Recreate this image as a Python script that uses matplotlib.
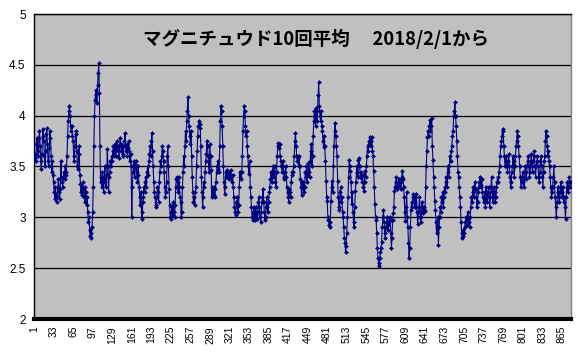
import matplotlib
matplotlib.use("Agg")
import matplotlib.pyplot as plt

title_text = "マグニチュウド10回平均　 2018/2/1から"
y_ticks = [2, 2.5, 3, 3.5, 4, 4.5, 5]
y_tick_labels = ["2", "2.5", "3", "3.5", "4", "4.5", "5"]
x_tick_positions = list(range(1, 866, 32))
x_tick_labels = [str(v) for v in x_tick_positions]

avg_values = [
    3.55, 3.58, 3.62, 3.55, 3.72, 3.78, 3.65, 3.6,
    3.78, 3.85, 3.7, 3.55, 3.48, 3.62, 3.8, 3.87,
    3.75, 3.6, 3.5, 3.65, 3.82, 3.88, 3.72, 3.55,
    3.5, 3.68, 3.85, 3.78, 3.6, 3.45, 3.55, 3.42,
    3.35, 3.25, 3.18, 3.3, 3.22, 3.15, 3.2, 3.3,
    3.38, 3.25, 3.18, 3.28, 3.55, 3.4, 3.35, 3.3,
    3.4, 3.45, 3.38, 3.5, 3.42, 3.45, 3.6, 3.8,
    3.95, 4.05, 4.1, 4.0, 3.9, 3.85, 3.9, 3.8,
    3.75, 3.6, 3.55, 3.7, 3.82, 3.85, 3.65, 3.5,
    3.48, 3.62, 3.7, 3.42, 3.33, 3.25, 3.3, 3.22,
    3.35, 3.28, 3.2, 3.15, 3.3, 3.25, 3.12, 3.2,
    3.05, 2.95, 3.0, 2.88, 2.82, 2.8, 2.85, 2.9,
    3.05, 3.3, 3.7, 4.0, 4.15, 4.25, 4.2, 4.12,
    4.3, 4.42, 4.52, 4.22, 3.7, 3.35, 3.4, 3.3,
    3.45, 3.38, 3.25, 3.4, 3.5, 3.35, 3.3, 3.42,
    3.67, 3.5, 3.25, 3.4, 3.45, 3.55, 3.5, 3.6,
    3.55, 3.65, 3.7, 3.6, 3.65, 3.72, 3.6, 3.68,
    3.75, 3.7, 3.65, 3.58, 3.7, 3.78, 3.72, 3.65,
    3.7, 3.62, 3.6, 3.7, 3.75, 3.83, 3.7, 3.65,
    3.72, 3.6, 3.68, 3.75, 3.65, 3.55, 3.62, 3.5,
    3.0, 3.3, 3.45, 3.55, 3.5, 3.4, 3.52, 3.55,
    3.45, 3.35, 3.5, 3.42, 3.3, 3.2, 3.12, 3.25,
    3.05, 2.98, 3.15, 3.2, 3.3, 3.25, 3.35, 3.4,
    3.3, 3.45, 3.5, 3.42, 3.55, 3.62, 3.7, 3.6,
    3.75, 3.83, 3.65, 3.5, 3.35, 3.25, 3.2, 3.12,
    3.1, 3.2, 3.3, 3.25, 3.15, 3.35, 3.45, 3.55,
    3.5, 3.6, 3.7, 3.65, 3.55, 3.45, 3.3, 3.2,
    3.25, 3.35, 3.6, 3.7, 3.5, 3.28, 3.12, 3.0,
    2.98, 3.05, 3.1, 3.02, 3.15, 3.05, 3.0, 3.12,
    3.3, 3.38, 3.4, 3.35, 3.25, 3.4, 3.3, 3.2,
    3.15, 3.0, 3.05, 3.3, 3.45, 3.6, 3.5, 3.7,
    3.85, 3.75, 3.95, 4.05, 4.18, 4.0, 3.9, 3.8,
    3.72, 3.85, 3.6, 3.4, 3.25, 3.15, 3.2, 3.12,
    3.25, 3.3, 3.5, 3.65, 3.8, 3.9, 3.95, 3.88,
    3.92, 3.7, 3.4, 3.25, 3.1, 3.2, 3.35, 3.3,
    3.45, 3.55, 3.62, 3.75, 3.7, 3.6, 3.5, 3.45,
    3.72, 3.6, 3.47, 3.2, 3.3, 3.25, 3.22, 3.3,
    3.2, 3.28, 3.35, 3.45, 3.5, 3.55, 3.48, 3.45,
    3.7, 3.95, 4.1, 4.05, 3.9, 3.7, 3.5, 3.35,
    3.23, 3.3, 3.45, 3.4, 3.47, 3.42, 3.4, 3.45,
    3.38, 3.42, 3.47, 3.4, 3.35, 3.42, 3.3, 3.2,
    3.1, 3.05, 3.02, 3.15, 3.1, 3.2, 3.05, 3.12,
    3.3, 3.45, 3.4, 3.38, 3.45, 3.6, 3.85, 4.0,
    4.1, 4.05, 3.9, 3.8, 3.85, 3.7, 3.6, 3.5,
    3.43, 3.55, 3.3, 3.2, 3.1, 3.0, 2.97, 3.05,
    3.1, 2.97, 3.05, 3.1, 3.02, 2.98, 3.05, 3.15,
    3.2, 3.1, 3.0, 2.95, 3.05, 3.15, 3.2, 3.28,
    3.15, 3.05, 2.97, 3.0, 3.1, 3.2, 3.1, 3.05,
    3.15, 3.25, 3.3, 3.38, 3.45, 3.35, 3.42, 3.5,
    3.4, 3.45, 3.5, 3.35, 3.3, 3.45, 3.6, 3.7,
    3.73, 3.68, 3.72, 3.6, 3.55, 3.5, 3.45, 3.55,
    3.5, 3.4, 3.38, 3.45, 3.5, 3.4, 3.3, 3.25,
    3.2, 3.15, 3.28, 3.25, 3.2, 3.35, 3.45, 3.42,
    3.45, 3.5, 3.6, 3.75, 3.83, 3.7, 3.6, 3.55,
    3.58, 3.5, 3.6, 3.5, 3.38, 3.3, 3.22, 3.35,
    3.28, 3.35, 3.25, 3.3, 3.45, 3.4, 3.5, 3.35,
    3.42, 3.53, 3.45, 3.4, 3.55, 3.65, 3.72, 3.5,
    3.6, 3.8, 3.95, 4.05, 4.0, 3.9, 4.08, 3.95,
    4.05, 4.2, 4.33, 4.1, 4.0, 3.95, 4.05, 3.9,
    3.85, 3.75, 3.69, 3.8, 3.7, 3.55, 3.36, 3.2,
    3.16, 3.0, 2.97, 2.92, 2.9, 2.95, 3.16, 3.3,
    3.36, 3.25, 3.5, 3.7, 3.85, 3.93, 3.8, 3.7,
    3.6, 3.36, 3.2, 3.1, 3.07, 3.25, 3.3, 3.15,
    3.2, 3.05, 3.0, 2.9, 2.8, 2.75, 2.66, 2.72,
    2.85, 3.0, 3.2, 3.4, 3.56, 3.5, 3.46, 3.35,
    3.13, 3.25, 3.05, 2.95, 2.9, 3.1, 3.26, 3.35,
    3.45, 3.5, 3.4, 3.56, 3.58, 3.5, 3.4, 3.45,
    3.4, 3.35, 3.42, 3.3, 3.26, 3.35, 3.46, 3.4,
    3.5, 3.6, 3.7, 3.65, 3.75, 3.72, 3.79, 3.7,
    3.75, 3.79, 3.65, 3.6, 3.46, 3.3, 3.13, 3.0,
    2.97, 2.85, 2.7, 2.6, 2.55, 2.52, 2.6, 2.66,
    2.7, 2.76, 2.9, 3.0, 3.07, 2.95, 2.85, 2.8,
    2.9, 2.95, 3.0, 2.92, 2.88, 2.95, 3.0, 2.97,
    2.85, 2.7, 2.8, 2.97, 3.04, 3.1, 3.26, 3.3,
    3.35, 3.4, 3.3, 3.28, 3.35, 3.32, 3.38, 3.3,
    3.35, 3.28, 3.4, 3.46, 3.38, 3.3, 3.2, 3.05,
    2.96, 3.1, 3.25, 3.0, 2.9, 2.75, 2.6, 2.7,
    2.9, 3.07, 3.15, 3.1, 3.2, 3.23, 3.15, 3.1,
    3.2, 3.1, 3.23, 3.05, 2.93, 3.0, 3.1, 3.2,
    3.05, 2.95, 3.0, 3.15, 3.1, 3.04, 3.08, 3.1,
    3.06, 3.3, 3.5, 3.65, 3.79, 3.85, 3.8, 3.9,
    3.96, 3.85, 3.9, 3.98, 3.7, 3.56, 3.4, 3.3,
    3.16, 3.07, 2.95, 2.85, 2.9, 3.0, 2.73, 2.9,
    3.0, 3.1, 3.05, 3.2, 3.15, 3.25, 3.1, 3.2,
    3.3, 3.25, 3.35, 3.4, 3.3, 3.45, 3.5, 3.4,
    3.5, 3.6, 3.55, 3.65, 3.7, 3.8, 3.85, 4.0,
    4.05, 4.13, 4.0, 3.9, 3.75, 3.6, 3.45, 3.4,
    3.3, 3.2, 3.1, 2.95, 2.85, 2.8, 2.82, 2.88,
    2.85, 2.9, 2.95, 3.0, 2.92, 2.98, 3.05, 3.0,
    2.95, 2.9, 3.0, 3.1, 3.2, 3.15, 3.25, 3.3,
    3.2, 3.3, 3.35, 3.28, 3.2, 3.1, 3.15, 3.25,
    3.3, 3.35, 3.4, 3.32, 3.3, 3.38, 3.25, 3.2,
    3.15, 3.2, 3.25, 3.1, 3.3, 3.2, 3.15, 3.25,
    3.3, 3.2, 3.1, 3.2, 3.3, 3.4, 3.25, 3.15,
    3.2, 3.3, 3.25, 3.15, 3.2, 3.3, 3.35, 3.4,
    3.35, 3.45, 3.5, 3.6, 3.7, 3.75, 3.8, 3.87,
    3.85, 3.7, 3.6, 3.5, 3.55, 3.6, 3.5, 3.45,
    3.55, 3.62, 3.5, 3.4, 3.3, 3.35, 3.45, 3.5,
    3.6, 3.55, 3.4, 3.5, 3.6, 3.7, 3.75, 3.85,
    3.8, 3.7, 3.6, 3.5, 3.4, 3.3, 3.35, 3.4,
    3.45, 3.35, 3.3, 3.4, 3.5, 3.45, 3.38, 3.5,
    3.55, 3.6, 3.5, 3.4, 3.45, 3.55, 3.62, 3.5,
    3.45, 3.55, 3.6, 3.65, 3.5, 3.4, 3.5, 3.55,
    3.6, 3.5, 3.4, 3.35, 3.45, 3.55, 3.6, 3.5,
    3.4, 3.3, 3.45, 3.55, 3.6, 3.75, 3.85, 3.8,
    3.7, 3.6, 3.65, 3.55, 3.5, 3.4, 3.3, 3.2,
    3.25, 3.3, 3.4, 3.5, 3.35, 3.2, 3.1, 3.0,
    3.15, 3.25, 3.3, 3.2, 3.15, 3.25, 3.35, 3.3,
    3.2, 3.25, 3.3, 3.15, 3.2, 3.1, 2.98, 3.2,
    3.3, 3.35, 3.25, 3.3, 3.4, 3.35, 3.3, 3.35,
]
categories = list(range(1, len(avg_values) + 1))

W, H = 578, 355
fig = plt.figure(figsize=(W / 100, H / 100), dpi=100)
fig.patch.set_facecolor("white")
ax = fig.add_axes([34 / W, 1 - 319 / H, 537 / W, 305 / H])
ax.set_facecolor("#C0C0C0")

ax.plot(categories, avg_values, color="#000080", lw=0.8, marker="D",
        markersize=2.1, markerfacecolor="#000080", markeredgecolor="#000080",
        markeredgewidth=0.3, zorder=3)

ax.set_xlim(1, len(avg_values))
ax.set_ylim(2, 5)
ax.set_yticks(y_ticks)
ax.set_yticklabels(y_tick_labels, fontsize=8.5, family="Liberation Sans")
ax.set_xticks(x_tick_positions)
ax.set_xticklabels(x_tick_labels, rotation=90, fontsize=7.5, family="Liberation Sans")
ax.tick_params(axis="both", length=0, pad=6)
ax.tick_params(axis="x", pad=5)
ax.grid(axis="y", color="black", lw=0.9, zorder=1)

for s in ["left", "top", "right"]:
    ax.spines[s].set_color("black")
    ax.spines[s].set_linewidth(1.0)
ax.spines["right"].set_color("#808080")
ax.spines["bottom"].set_color("black")
ax.spines["bottom"].set_linewidth(3.0)

ax.text(0.525, 0.92, title_text, transform=ax.transAxes, ha="center", va="center",
        fontsize=13.3, fontweight="bold", family=["Noto Sans CJK JP", "DejaVu Sans"])

fig.savefig("out.png", dpi=100, facecolor="white")
